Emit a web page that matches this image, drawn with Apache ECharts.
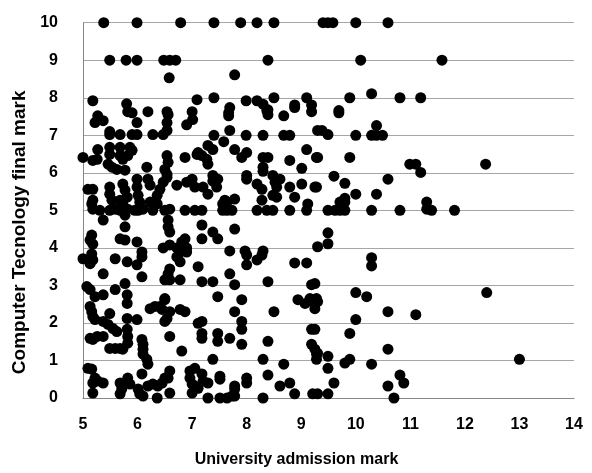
<!DOCTYPE html>
<html><head><meta charset="utf-8">
<script src="https://cdn.jsdelivr.net/npm/echarts@6/dist/echarts.min.js"></script>
<style>html,body{margin:0;padding:0;background:#fff}#c{width:592px;height:473px}</style>
</head><body><div id="c"></div>
<script>
const xTitle = 'University admission mark';
const yTitle = 'Computer Tecnology final mark';

const row10 = [[5.38,10],[5.99,10],[6.79,10],[7.40,10],[7.89,10],[8.19,10],[8.50,10],[9.40,10],[9.49,10],[9.58,10],[10.0,10],[10.59,10]];
const row9 = [[5.49,9],[5.79,9],[5.99,9],[6.48,9],[6.59,9],[6.70,9],[8.39,9],[10.09,9],[11.58,9],[6.58,8.53],[7.78,8.61]];
const band8 = [[5.18,7.92],[5.80,7.84],[7.09,7.95],[7.40,8.0],[7.69,7.74],[7.99,7.92],[8.19,7.92],[8.30,7.83],[8.50,8.0],[8.39,7.68],[8.88,7.81],[9.10,8.0],[9.19,7.81],[9.89,8.0],[10.29,8.11],[10.81,8.0],[11.19,8.0],[9.69,7.66]];
const band7 = [[5.82,7.63],[5.90,7.60],[6.19,7.63],[6.54,7.63],[7.0,7.63],[5.27,7.52],[5.22,7.34],[5.37,7.39],[5.99,7.34],[6.54,7.34],[6.56,7.55],[6.90,7.28],[7.01,7.42],[5.49,7.10],[5.49,7.02],[5.68,7.02],[5.90,7.02],[5.99,7.02],[6.28,7.02],[6.47,7.02],[6.54,7.13],
 [7.67,7.60],[7.67,7.52],[8.37,7.66],[8.39,7.55],[8.68,7.52],[8.88,7.74],[9.19,7.63],[7.40,7.0],[7.69,7.13],[7.99,7.0],[8.30,7.0],[8.68,7.0],[8.79,7.0],[9.30,7.13],
 [9.69,7.60],[9.38,7.13],[9.49,7.02],[10.0,7.0],[10.29,7.0],[10.38,7.26],[10.38,7.0],[10.49,7.0]];
const band6 = [[5.0,6.41],[5.27,6.62],[5.18,6.33],[5.26,6.36],[5.49,6.68],[5.68,6.68],[5.86,6.68],[5.90,6.60],[5.49,6.49],[5.68,6.46],[5.82,6.46],[5.73,6.36],[5.46,6.23],[5.53,6.15],[5.62,6.09],[5.77,6.07],[6.17,6.15],[6.54,6.46],[6.56,6.28],[6.50,6.09],[6.54,5.96],[6.87,6.41],[7.09,6.49],
 [7.58,6.83],[7.29,6.73],[7.38,6.62],[7.11,6.54],[7.18,6.46],[7.27,6.36],[7.29,6.23],[7.78,6.62],[7.91,6.41],[8.0,6.54],[8.30,6.41],[8.39,6.41],[8.79,6.33],[9.10,6.62],[9.28,6.41],[8.30,6.15],[8.30,6.04],[9.01,6.12],
 [9.30,6.41],[9.89,6.41],[10.99,6.23],[11.10,6.23],[11.19,6.01],[12.38,6.23]];
const band5 = [[5.09,5.56],[5.18,5.56],[5.18,5.27],[5.49,5.62],[5.49,5.43],[5.53,5.27],[5.73,5.70],[5.77,5.54],[5.81,5.35],[5.99,5.83],[5.99,5.62],[6.01,5.40],[6.04,5.22],[6.19,5.83],[6.23,5.67],[6.41,5.56],[6.36,5.40],[6.54,5.88],[6.47,5.75],[6.72,5.67],[6.90,5.75],[7.0,5.83],[5.68,5.27],[5.73,5.17],[6.23,5.22],[6.36,5.17],
 [7.38,5.93],[7.38,5.78],[7.47,5.83],[7.45,5.62],[7.29,5.43],[7.20,5.62],[8.0,5.93],[8.0,5.83],[8.19,5.70],[8.28,5.56],[8.48,5.93],[8.52,5.75],[8.55,5.62],[8.61,5.83],[8.79,5.62],[9.01,5.70],[9.28,5.62],[8.48,5.40],[8.55,5.35],[8.88,5.35],[7.60,5.27],[7.78,5.30],[8.28,5.27],[9.12,5.17],[7.05,5.62],
 [9.60,5.91],[9.80,5.72],[10.59,5.83],[9.25,5.62],[9.80,5.32],[10.0,5.43],[10.38,5.43],[11.30,5.22]];
const row5 = [[5.18,5.03],[5.16,5.17],[5.31,5.0],[5.49,5.0],[5.59,5.03],[5.68,5.0],[5.82,5.03],[5.95,5.0],[6.01,5.0],[6.10,5.03],[6.28,5.0],[6.50,5.0],[6.59,5.03],[6.87,5.0],[7.05,5.0],[7.18,5.0],[7.56,5.0],[7.64,5.0],[7.73,5.0],[8.19,5.0],[8.37,5.0],[8.48,5.0],[8.79,5.0],[9.10,5.0],[9.49,5.0],[9.62,5.0],[9.71,5.0],[9.80,5.0],[10.29,5.0],[10.81,5.0],[11.30,5.03],[11.39,5.0],[11.81,5.0],[9.71,5.22],[9.80,5.22],[7.56,5.17],[7.64,5.22]];
const band4 = [[5.37,4.74],[5.77,4.87],[5.77,4.56],[5.16,4.34],[5.13,4.21],[5.18,4.10],[5.68,4.24],[5.77,4.21],[5.99,4.16],[6.08,3.89],[6.08,3.76],[6.56,4.74],[6.56,4.56],[6.59,4.42],[6.47,4.0],[6.59,4.08],[6.72,4.0],[6.81,4.16],[6.87,4.24],[6.90,4.0],
 [7.18,4.61],[7.38,4.42],[7.47,4.24],[7.18,4.24],[7.78,4.50],[9.30,4.03],[9.49,4.40],[9.49,4.11]];
const band3 = [[6.78,3.89],[6.72,3.76],[6.78,3.63],[6.90,3.89],[5.0,3.71],[5.09,3.68],[5.16,3.84],[5.18,3.68],[5.13,3.58],[5.59,3.71],[5.81,3.63],[5.99,3.55],[5.37,3.31],[6.08,3.23],[6.59,3.44],[6.56,3.31],[6.50,3.15],[6.59,3.15],[6.78,3.15],[7.11,3.50],
 [7.69,3.92],[7.97,3.92],[8.0,3.81],[8.0,3.55],[8.19,3.68],[8.30,3.92],[8.28,3.81],[8.88,3.60],[9.10,3.60],[7.69,3.31],[7.18,3.10],[7.38,3.10],[7.78,3.02],[8.39,3.10],[9.19,3.02],[10.29,3.74],[10.29,3.52]];
const band2 = [[5.07,2.97],[5.13,2.89],[5.59,2.89],[5.77,3.05],[5.81,2.75],[5.37,2.75],[5.22,2.70],[6.50,2.65],[7.47,2.70],[7.91,2.62],[8.94,2.62],[9.16,2.65],[9.25,3.05],[10.0,2.81],[10.20,2.70],[9.28,2.65],
 [5.13,2.44],[5.16,2.30],[5.18,2.17],[5.22,2.09],[5.49,2.25],[5.37,2.04],[5.46,1.96],[5.55,1.85],[5.62,1.77],[5.81,2.12],[5.99,2.09],[5.81,2.52],[6.23,2.38],[6.32,2.44],[6.41,2.44],[6.50,2.62],[6.45,2.36],[6.59,2.30],[6.78,2.36],[6.87,2.30],[6.54,2.12],[6.50,2.04],[7.11,1.99],
 [7.78,2.30],[8.50,2.30],[9.07,2.52],[9.21,2.57],[9.25,2.38],[9.30,2.57],[10.59,2.30],[11.10,2.22],[10.0,2.09],[12.40,2.81]];
const band1 = [[7.18,2.04],[7.91,2.04],[7.91,1.83],[7.91,1.43],[7.18,1.72],[7.18,1.59],[7.47,1.72],[7.47,1.51],[7.69,1.59],[8.39,1.51],[9.19,1.83],[9.19,1.43],[9.25,1.30],[9.28,1.17],[9.28,1.03],[7.38,1.03],[8.30,1.03],[8.68,0.90],
 [9.25,1.83],[9.89,1.72],[10.59,1.30],[9.30,1.19],[9.49,1.11],[9.49,0.79],[9.80,0.93],[9.89,1.03],[10.29,0.90],[13.0,1.03],
 [5.13,1.59],[5.18,1.56],[5.26,1.64],[5.37,1.64],[5.49,1.32],[5.59,1.32],[5.68,1.32],[5.73,1.30],[5.82,1.64],[5.81,1.83],[5.82,1.46],[6.08,1.56],[6.10,1.43],[6.10,1.30],[6.10,1.17],[6.17,1.03],[6.19,0.90],[6.59,1.64],[6.81,1.25]];
const band0 = [[5.09,0.79],[5.16,0.77],[5.22,0.53],[5.18,0.40],[5.27,0.45],[5.37,0.40],[5.18,0.13],[5.68,0.40],[5.71,0.24],[5.68,0.11],[5.82,0.53],[5.86,0.37],[6.08,0.64],[6.01,0.24],[6.04,0.11],[6.10,0.05],[6.19,0.32],[6.28,0.37],[6.37,0.32],[6.45,0.40],[6.50,0.53],[6.56,0.53],[6.36,0.0],[6.59,0.72],[6.59,0.13],[6.96,0.72],[6.96,0.53],[7.0,0.37],[7.05,0.32],[7.0,0.13],
 [7.05,0.79],[7.18,0.64],[7.20,0.45],[7.29,0.40],[7.11,0.26],[8.0,0.53],[8.0,0.40],[7.78,0.32],[7.78,0.24],[7.51,0.58],[7.51,0.50],[8.39,0.61],[8.61,0.32],[8.79,0.40],[8.88,0.11],[9.21,0.11],[9.30,0.11],[7.29,0.0],[7.51,0.0],[7.64,0.0],[7.73,0.05],[7.78,0.05],[8.30,0.0],
 [10.81,0.61],[10.88,0.40],[10.59,0.32],[9.60,0.40],[10.70,0.0],[9.49,0.11]];

const points = [].concat(row10,row9,band8,band7,band6,band5,row5,band4,band3,band2,band1,band0);
const font = '"Liberation Sans", Arial, sans-serif';
const chart = echarts.init(document.getElementById('c'), null, {renderer:'canvas'});
chart.setOption({
  animation:false,
  grid:{left:83,right:18,top:22.7,bottom:73},
  xAxis:{type:'value',min:5,max:14,interval:1,
    name:xTitle,nameLocation:'middle',nameGap:54,
    nameTextStyle:{fontFamily:font,fontWeight:'bold',fontSize:16,color:'#000',padding:[0,64,0,0]},
    axisLine:{show:true,lineStyle:{color:'#868686',width:1}},
    axisTick:{show:false},splitLine:{show:false},
    axisLabel:{margin:19,fontFamily:font,fontWeight:'bold',fontSize:16,color:'#000'}},
  yAxis:{type:'value',min:0,max:10,interval:1,
    name:yTitle,nameLocation:'middle',nameGap:49,
    nameTextStyle:{fontFamily:font,fontWeight:'bold',fontSize:19,color:'#000',padding:[0,44,0,0]},
    axisLine:{show:true,lineStyle:{color:'#868686',width:1}},
    axisTick:{show:false},
    splitLine:{show:true,lineStyle:{color:'#a6a6a6',width:1}},
    axisLabel:{margin:25,fontFamily:font,fontWeight:'bold',fontSize:16,color:'#000'}},
  series:[{type:'scatter',data:points,symbol:'circle',symbolSize:11,clip:false,
    itemStyle:{color:'#000',opacity:1}}]
});
</script></body></html>
